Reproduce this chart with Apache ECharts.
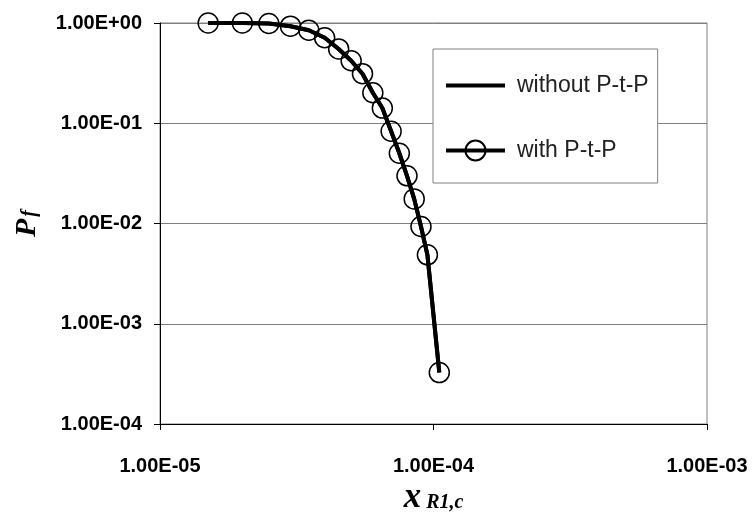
<!DOCTYPE html>
<html>
<head>
<meta charset="utf-8">
<script src="https://cdn.jsdelivr.net/npm/echarts@6/dist/echarts.min.js"></script>
<style>
  html, body { margin: 0; padding: 0; background: #fff; }
  #chart { width: 754px; height: 515px; }
</style>
</head>
<body>
<div id="chart"></div>
<script>
// x_R1,c values (log axis)
const xValues = [1.5e-5, 2.0e-5, 2.5e-5, 3.0e-5, 3.5e-5, 4.0e-5, 4.5e-5, 5.0e-5, 5.5e-5,
  6.0e-5, 6.5e-5, 7.0e-5, 7.5e-5, 8.0e-5, 8.5e-5, 9.0e-5, 9.5e-5, 1.05e-4]
// P_f without P-t-P
const pfWithout = [1.0, 1.0, 0.989, 0.929, 0.847, 0.713, 0.551, 0.420, 0.312,
  0.2015, 0.1418, 0.0832, 0.0502, 0.0299, 0.0176, 0.00933, 0.00487, 0.000326]
// P_f with P-t-P
const pfWith = [1.0, 1.0, 0.989, 0.929, 0.847, 0.713, 0.551, 0.420, 0.312,
  0.2015, 0.1418, 0.0832, 0.0502, 0.0299, 0.0176, 0.00933, 0.00487, 0.000326]

const xTickLabels = ['1.00E-05', '1.00E-04', '1.00E-03']
const yTickLabels = ['1.00E-04', '1.00E-03', '1.00E-02', '1.00E-01', '1.00E+00']

const chart = echarts.init(document.getElementById('chart'), null, { renderer: 'canvas' })

const labelStyle = {
  fontFamily: 'Liberation Sans, Arial, sans-serif',
  fontWeight: 'bold',
  fontSize: 20,
  color: '#000'
}

chart.setOption({
  animation: false,
  backgroundColor: '#fff',
  grid: {
    left: 160, right: 47, top: 23, bottom: 91,
    outerBoundsMode: 'none',
    show: true, borderColor: '#808080', borderWidth: 1
  },
  legend: {
    orient: 'vertical',
    left: 433, top: 49,
    padding: [25, 9, 21, 11],
    itemWidth: 59, itemHeight: 25, itemGap: 42,
    backgroundColor: '#fff',
    borderColor: '#808080', borderWidth: 1,
    lineStyle: { width: 4, color: '#000' },
    textStyle: {
      fontFamily: 'Liberation Sans, Arial, sans-serif',
      fontSize: 23, color: '#222',
      padding: [0, 0, 0, 7]
    },
    data: [
      { name: 'without P-t-P', itemStyle: { color: 'rgba(0,0,0,0)', borderWidth: 0, borderColor: 'rgba(0,0,0,0)' } },
      { name: 'with P-t-P', itemStyle: { color: 'rgba(255,255,255,0)', borderColor: '#000', borderWidth: 2 } }
    ]
  },
  xAxis: {
    type: 'log', logBase: 10, min: 1e-5, max: 1e-3,
    axisLine: { lineStyle: { color: '#000', width: 1 } },
    axisTick: { show: true, length: 6, lineStyle: { color: '#000' } },
    splitLine: { show: false },
    minorTick: { show: false },
    axisLabel: Object.assign({
      margin: 32,
      formatter: v => xTickLabels[Math.round(Math.log10(v)) + 5]
    }, labelStyle),
    name: '{x|x}{s|R1,c}',
    nameLocation: 'middle',
    nameGap: 47,
    nameTextStyle: {
      rich: {
        x: { fontFamily: 'Liberation Serif, serif', fontStyle: 'italic', fontWeight: 'bold', fontSize: 35, color: '#000' },
        s: { fontFamily: 'Liberation Serif, serif', fontStyle: 'italic', fontWeight: 'bold', fontSize: 20, color: '#000', padding: [0, 0, -8, 5] }
      }
    }
  },
  yAxis: {
    type: 'log', logBase: 10, min: 1e-4, max: 1,
    axisLine: { show: true, lineStyle: { color: '#000', width: 1 } },
    axisTick: { show: true, length: 6, lineStyle: { color: '#000' } },
    splitLine: { show: true, lineStyle: { color: '#808080', width: 1 } },
    minorTick: { show: false },
    axisLabel: Object.assign({
      margin: 18,
      formatter: v => yTickLabels[Math.round(Math.log10(v)) + 4]
    }, labelStyle),
    name: '{p|P}{s|f}',
    nameLocation: 'middle',
    nameRotate: 90,
    nameGap: 118,
    nameTextStyle: {
      rich: {
        p: { fontFamily: 'Liberation Serif, serif', fontStyle: 'italic', fontWeight: 'bold', fontSize: 30, color: '#000' },
        s: { fontFamily: 'Liberation Serif, serif', fontStyle: 'italic', fontWeight: 'bold', fontSize: 20, color: '#000', padding: [0, 0, -6, 2] }
      }
    }
  },
  series: [
    {
      name: 'without P-t-P',
      type: 'line',
      symbol: 'none',
      lineStyle: { color: '#000', width: 4 },
      itemStyle: { color: '#000' },
      data: xValues.map((x, i) => [x, pfWithout[i]]),
      z: 2
    },
    {
      name: 'with P-t-P',
      type: 'line',
      symbol: 'circle',
      symbolSize: 20,
      showAllSymbol: true,
      lineStyle: { color: '#000', width: 4 },
      itemStyle: { color: 'rgba(255,255,255,0)', borderColor: '#000', borderWidth: 1.5 },
      data: xValues.map((x, i) => [x, pfWith[i]]),
      z: 3
    }
  ]
})
</script>
</body>
</html>
